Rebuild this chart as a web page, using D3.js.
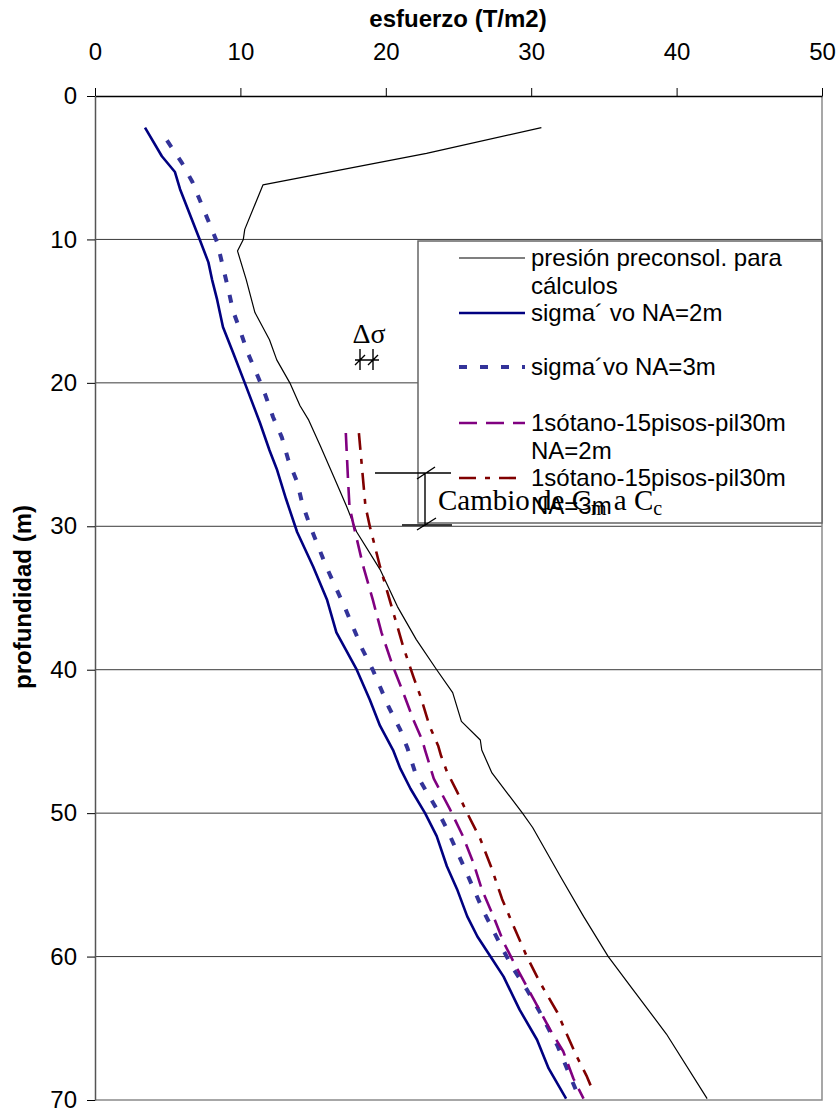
<!DOCTYPE html>
<html><head><meta charset="utf-8">
<script src="https://cdn.jsdelivr.net/npm/d3@7"></script>
<style>body{margin:0;background:#fff} svg{display:block}</style>
</head><body>
<svg id="c" width="838" height="1113"></svg>
<script>
// ---------- data ----------
const xTicks = [0, 10, 20, 30, 40, 50];
const yTicks = [0, 10, 20, 30, 40, 50, 60, 70];
const gridDepths = [10, 20, 30, 40, 50, 60];

const legendLabels = [
  ["presión preconsol. para", "cálculos"],
  ["sigma´ vo NA=2m"],
  ["sigma´vo NA=3m"],
  ["1sótano-15pisos-pil30m", "NA=2m"],
  ["1sótano-15pisos-pil30m", "NA=3m"]
];

// presión preconsolidación
const preDepth = [2.2, 4.0, 6.2, 9.3, 10.0, 10.8, 12.8, 15.1, 17.0, 18.4, 20.0, 21.6, 22.6, 24.4, 26.5, 28.6, 30.4, 33.0, 35.6, 37.9, 40.0, 41.6, 43.6, 44.9, 45.6, 47.2, 50.0, 51.0, 54.4, 57.2, 60.0, 62.3, 65.4, 69.9];
const preValue = [30.7, 22.8, 11.55, 10.3, 10.2, 9.8, 10.4, 11.0, 12.0, 12.5, 13.4, 14.1, 14.7, 15.5, 16.4, 17.3, 18.0, 19.6, 20.8, 22.1, 23.5, 24.6, 25.2, 26.5, 26.6, 27.3, 29.4, 30.1, 32.0, 33.6, 35.3, 37.0, 39.3, 42.1];

// sigma' vo NA=2m
const na2Depth = [2.2, 4.2, 5.3, 6.5, 10.0, 11.6, 12.8, 14.2, 16.1, 17.9, 20.0, 22.8, 24.7, 26.0, 28.1, 30.4, 32.8, 35.1, 37.4, 40.0, 42.1, 43.9, 45.6, 46.9, 48.3, 50.0, 51.6, 53.7, 55.3, 57.2, 58.6, 60.0, 61.4, 63.7, 65.8, 67.8, 69.9];
const na2Value = [3.44, 4.6, 5.5, 5.85, 7.2, 7.8, 8.05, 8.4, 8.8, 9.5, 10.3, 11.35, 12.0, 12.5, 13.14, 13.9, 15.0, 15.95, 16.6, 18.0, 18.9, 19.6, 20.5, 21.0, 21.7, 22.7, 23.5, 24.2, 24.9, 25.6, 26.3, 27.2, 28.1, 29.2, 30.4, 31.2, 32.4];

// sigma' vo NA=3m
const na3Depth = [3.1, 4.7, 6.0, 10.2, 13.4, 15.0, 16.4, 17.9, 19.3, 20.8, 22.4, 23.8, 25.4, 26.9, 28.4, 30.0, 32.8, 35.7, 38.6, 40.0, 42.6, 44.2, 45.5, 47.1, 48.5, 49.7, 51.1, 53.8, 56.8, 59.6, 60.9, 62.3, 63.7, 66.2, 69.6];
const na3Value = [4.95, 6.0, 6.7, 8.4, 9.15, 9.5, 10.0, 10.5, 11.1, 11.7, 12.25, 12.85, 13.3, 13.9, 14.25, 14.8, 15.9, 17.2, 18.4, 19.1, 20.2, 21.0, 21.5, 22.0, 22.8, 23.5, 24.2, 25.4, 26.7, 28.1, 28.8, 29.7, 30.5, 31.8, 33.2];

// 1sótano-15pisos-pil30m NA=2m
const b2Depth = [23.5, 26.7, 28.6, 30.0, 32.8, 35.1, 37.4, 39.8, 41.6, 43.5, 44.9, 45.6, 47.6, 49.7, 51.6, 53.4, 55.3, 57.2, 59.0, 60.4, 62.1, 63.4, 65.1, 66.6, 68.5, 69.9];
const b2Value = [17.25, 17.4, 17.5, 17.8, 18.45, 19.1, 19.7, 20.5, 21.2, 21.9, 22.5, 22.7, 23.3, 24.4, 25.3, 26.0, 26.6, 27.4, 28.1, 28.8, 29.7, 30.4, 31.3, 32.2, 32.9, 33.6];

// 1sótano-15pisos-pil30m NA=3m
const b3Depth = [23.5, 28.6, 30.0, 32.8, 35.6, 38.4, 40.5, 41.9, 43.9, 45.3, 46.0, 47.1, 48.5, 50.0, 51.8, 53.9, 56.0, 57.9, 60.0, 61.8, 63.9, 65.3, 66.9, 68.3, 69.5];
const b3Value = [18.15, 18.6, 18.9, 19.6, 20.4, 21.2, 21.9, 22.4, 23.0, 23.6, 23.8, 24.2, 24.9, 25.6, 26.5, 27.3, 28.0, 28.8, 29.7, 30.6, 31.8, 32.4, 33.1, 33.8, 34.3];

// ---------- chart ----------
const svg = d3.select("#c");
const SANS = "'Liberation Sans', Arial, sans-serif";
const SERIF = "'Liberation Serif', 'Times New Roman', serif";

const x = d3.scaleLinear().domain([0, 50]).range([95, 822]);
const y = d3.scaleLinear().domain([0, 70]).range([96, 1100]);

// gridlines
svg.append("g").selectAll("line").data(gridDepths).join("line")
  .attr("x1", x(0)).attr("x2", x(50))
  .attr("y1", d => y(d)).attr("y2", d => y(d))
  .attr("stroke", "#3a3a3a").attr("stroke-width", 1);

// plot border right / bottom (gray)
svg.append("path")
  .attr("d", `M${x(50)},${y(0)}V${y(70)}H${x(0)}`)
  .attr("fill", "none").attr("stroke", "#8a8a8a").attr("stroke-width", 1.5);

// top axis
const gx = svg.append("g").attr("transform", `translate(0,${y(0)})`)
  .call(d3.axisTop(x).tickValues(xTicks).tickSize(8).tickSizeOuter(0).tickPadding(28).tickFormat(d3.format("d")));
gx.select(".domain").attr("stroke", "#000").attr("stroke-width", 1.5);
gx.selectAll(".tick line").attr("stroke", "#000");
gx.selectAll("text").attr("font-family", SANS).attr("font-size", 24).attr("fill", "#000");

// left axis
const gy = svg.append("g").attr("transform", `translate(${x(0)},0)`)
  .call(d3.axisLeft(y).tickValues(yTicks).tickSize(8).tickSizeOuter(0).tickPadding(10).tickFormat(d3.format("d")));
gy.select(".domain").attr("stroke", "#555").attr("stroke-width", 1.5);
gy.selectAll(".tick line").attr("stroke", "#000");
gy.selectAll("text").attr("font-family", SANS).attr("font-size", 24).attr("fill", "#000");

// titles
svg.append("text").attr("x", 458).attr("y", 27).attr("text-anchor", "middle")
  .attr("font-family", SANS).attr("font-size", 24).attr("font-weight", "bold")
  .text("esfuerzo (T/m2)");
svg.append("text").attr("transform", "translate(31,597) rotate(-90)").attr("text-anchor", "middle")
  .attr("font-family", SANS).attr("font-size", 24).attr("font-weight", "bold")
  .text("profundidad (m)");

// series
const series = [
  {d: preDepth, v: preValue, color: "#000000", w: 1.2, dash: null},
  {d: na2Depth, v: na2Value, color: "#000080", w: 2.6, dash: null},
  {d: na3Depth, v: na3Value, color: "#333399", w: 4, dash: "8,13"},
  {d: b2Depth, v: b2Value, color: "#800080", w: 2.6, dash: "18,9"},
  {d: b3Depth, v: b3Value, color: "#800000", w: 2.6, dash: "17,9,5,9"}
];
const line = d3.line().x(p => x(p[0])).y(p => y(p[1]));
series.forEach(s => {
  const pts = s.d.map((dd, i) => [s.v[i], dd]);
  svg.append("path").datum(pts).attr("d", line)
    .attr("fill", "none").attr("stroke", s.color).attr("stroke-width", s.w)
    .attr("stroke-linejoin", "round")
    .attr("stroke-dasharray", s.dash);
});

// legend
const lg = svg.append("g");
lg.append("rect").attr("x", 418).attr("y", 241).attr("width", 404).attr("height", 282)
  .attr("fill", "#fff").attr("stroke", "#666").attr("stroke-width", 1.5);
const rowMarkY = [258, 313, 367, 423, 478];
legendLabels.forEach((lines, i) => {
  const s = series[i];
  lg.append("line").attr("x1", 459).attr("x2", 525)
    .attr("y1", rowMarkY[i]).attr("y2", rowMarkY[i])
    .attr("stroke", s.color).attr("stroke-width", i === 0 ? 1.2 : (i === 2 ? 4 : 2.6))
    .attr("stroke-dasharray", s.dash);
  const t = lg.append("text").attr("x", 531).attr("y", rowMarkY[i] + 8)
    .attr("font-family", SANS).attr("font-size", 24).attr("fill", "#000");
  lines.forEach((ln, j) => {
    t.append("tspan").attr("x", 531).attr("dy", j === 0 ? 0 : 28).text(ln);
  });
});

// annotations (drawn over the legend)
const ann = svg.append("g").attr("stroke", "#000").attr("stroke-width", 1.4).attr("fill", "none");
svg.append("text").attr("x", 369).attr("y", 343).attr("text-anchor", "middle")
  .attr("font-family", SERIF).attr("font-size", 28).text("Δσ");
ann.append("path").attr("d", "M355,360H379 M360,349V370 M373,349V370 M355,365L365,355 M368,365L378,355");
ann.append("path").attr("d", "M375,473H451 M425,473V526 M402,525H452 M417,479L435,467 M417,530L436,518");
const ct = svg.append("text").attr("x", 438).attr("y", 510)
  .attr("font-family", SERIF).attr("font-size", 29).attr("fill", "#000");
ct.append("tspan").text("Cambio de C");
ct.append("tspan").attr("font-size", 20).attr("dy", 5).text("m");
ct.append("tspan").attr("dy", -5).text(" a C");
ct.append("tspan").attr("font-size", 20).attr("dy", 5).text("c");
</script>
</body></html>
